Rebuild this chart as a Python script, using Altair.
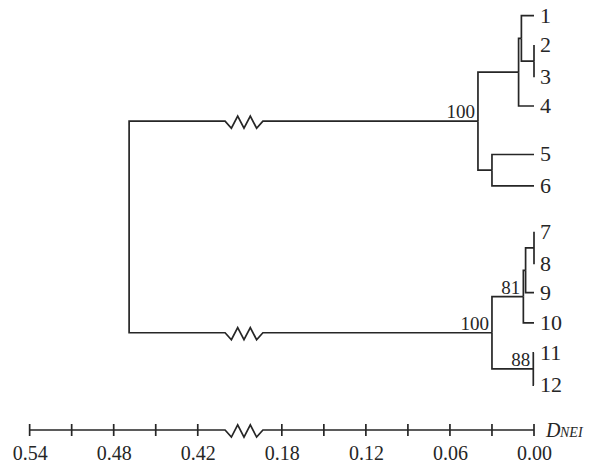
import altair as alt
import pandas as pd

# ---------------- data ----------------
leaf_names = ["1", "2", "3", "4", "5", "6", "7", "8", "9", "10", "11", "12"]
leaf_rows = [0.00, 0.96, 2.02, 2.96, 4.55, 5.58, 7.08, 8.15, 9.08, 10.07, 11.05, 12.11]
leaf_dist = [0.0, 0.0, 0.0, 0.0, 0.0, 0.0, 0.0, 0.0, 0.0, 0.0, 0.0, 0.0]

node_names = ["n23", "n1_23", "n1_4", "n56", "nA", "n78", "n7_9", "n7_10", "n11_12", "nB", "root"]
node_children = [("2", "3"), ("1", "n23"), ("n1_23", "4"), ("5", "6"), ("n1_4", "n56"),
                 ("7", "8"), ("n78", "9"), ("n7_9", "10"), ("11", "12"), ("n7_10", "n11_12"),
                 ("nA", "nB")]
node_dist = [0.000, 0.009, 0.011, 0.030, 0.040, 0.000, 0.006, 0.0076, 0.0005, 0.030, 0.469]
node_support = ["", "", "", "", "100", "", "", "81", "88", "100", ""]

axis_tick_values = [0.00, 0.03, 0.06, 0.09, 0.12, 0.15, 0.18, 0.42, 0.45, 0.48, 0.51, 0.54]
axis_label_values = [0.00, 0.06, 0.12, 0.18, 0.42, 0.48, 0.54]
axis_title_main = "D"
axis_title_sub = "NEI"

BREAK_LO, BREAK_HI = 0.18, 0.42   # hidden part of the distance axis
BREAK_SHOWN = 0.06                 # width the break occupies on the axis
ZZ_CENTER, ZZ_HALF = 0.207, 0.0135  # zigzag location (compressed units)
ZZ_DOWN, ZZ_UP = 0.23, 0.17
AXIS_ROW = 13.584
TICK_HALF = 0.197
INK = "#262626"
FONT = "Liberation Serif"


def comp(d):
    return d if d <= BREAK_LO else d - (BREAK_HI - BREAK_LO) + BREAK_SHOWN


def zigzag(y):
    xs = [ZZ_CENTER + ZZ_HALF - i * (2 * ZZ_HALF) / 6 for i in range(7)]
    offs = [0, ZZ_DOWN, -ZZ_UP, ZZ_DOWN, -ZZ_UP, ZZ_DOWN, 0]
    return [(x, y + o) for x, o in zip(xs, offs)]


# node positions
pos = {}
for n, r, d in zip(leaf_names, leaf_rows, leaf_dist):
    pos[n] = (comp(d), r)
for n, (a, b), d in zip(node_names, node_children, node_dist):
    pos[n] = (comp(d), (pos[a][1] + pos[b][1]) / 2)

# tree branches as elbow polylines
rows = []
pid = 0
for n, (a, b) in zip(node_names, node_children):
    nu, ny = pos[n]
    for c in (a, b):
        cu, cy = pos[c]
        pts = [(nu, ny), (nu, cy)]
        if n == "root":
            pts += zigzag(cy)
        pts.append((cu, cy))
        for s, (x, y) in enumerate(pts):
            rows.append({"path": f"p{pid}", "seq": s, "x": x, "y": y})
        pid += 1

# axis line with its break
ax_pts = [(comp(max(axis_tick_values)), AXIS_ROW)] + zigzag(AXIS_ROW) + [(comp(0.0), AXIS_ROW)]
for s, (x, y) in enumerate(ax_pts):
    rows.append({"path": "axis", "seq": s, "x": x, "y": y})
lines_df = pd.DataFrame(rows)

ticks_df = pd.DataFrame({"x": [comp(v) for v in axis_tick_values]})
ticks_df["y"] = AXIS_ROW - TICK_HALF
ticks_df["y2"] = AXIS_ROW + TICK_HALF

leaf_df = pd.DataFrame({"x": [pos[n][0] for n in leaf_names],
                        "y": [pos[n][1] for n in leaf_names],
                        "label": leaf_names})
sup_df = pd.DataFrame({"x": [pos[n][0] for n, s in zip(node_names, node_support) if s],
                       "y": [pos[n][1] for n, s in zip(node_names, node_support) if s],
                       "label": [s for s in node_support if s]})
title_df = pd.DataFrame({"x": [comp(0.0)], "y": [AXIS_ROW],
                         "main": [axis_title_main], "sub": [axis_title_sub]})

# ---------------- scales ----------------
W, H = 584, 422
PX_PER_UNIT = 1401
X0 = 526  # pixel of distance 0
xs = alt.Scale(domain=[X0 / PX_PER_UNIT, (X0 - W) / PX_PER_UNIT], nice=False, zero=False)
ys = alt.Scale(domain=[-7.7 / 30.5, (H - 7.7) / 30.5], nice=False, zero=False, reverse=True)

label_u = [comp(v) for v in axis_label_values]
x_axis = alt.Axis(values=label_u, domain=False, ticks=False, tickSize=0, grid=False,
                  labelExpr=f"format(datum.value > {BREAK_LO + BREAK_SHOWN / 2} ? datum.value + {BREAK_HI - BREAK_LO - BREAK_SHOWN} : datum.value, '.2f')",
                  labelFont=FONT, labelFontSize=20, labelColor=INK, labelPadding=13,
                  labelFlush=False, labelOverlap=False, title=None)


def X(field="x"):
    return alt.X(f"{field}:Q", scale=xs, axis=x_axis)


def Y(field="y"):
    return alt.Y(f"{field}:Q", scale=ys, axis=None)


lines = alt.Chart(lines_df).mark_line(color=INK, strokeWidth=1.7, strokeJoin="miter").encode(
    x=X(), y=Y(), detail="path:N", order="seq:Q")

ticks = alt.Chart(ticks_df).mark_rule(color=INK, strokeWidth=1.7).encode(
    x=X(), y=Y(), y2="y2:Q")

leaf_text = alt.Chart(leaf_df).mark_text(align="left", baseline="middle", dx=6,
                                         font=FONT, fontSize=22, color=INK).encode(
    x=X(), y=Y(), text="label:N")

sup_text = alt.Chart(sup_df).mark_text(align="right", baseline="alphabetic", dx=-3, dy=-3,
                                       font=FONT, fontSize=19, color=INK).encode(
    x=X(), y=Y(), text="label:N")

t_main = alt.Chart(title_df).mark_text(align="left", baseline="alphabetic", dx=12, dy=7,
                                       font=FONT, fontSize=20, fontStyle="italic", color=INK).encode(
    x=X(), y=Y(), text="main:N")
t_sub = alt.Chart(title_df).mark_text(align="left", baseline="alphabetic", dx=26, dy=7,
                                      font=FONT, fontSize=14, fontStyle="italic", color=INK).encode(
    x=X(), y=Y(), text="sub:N")

chart = alt.layer(lines, ticks, leaf_text, sup_text, t_main, t_sub).properties(
    width=W, height=H,
    autosize=alt.AutoSizeParams(type="none"),
    padding={"left": 0, "top": 0, "right": 0, "bottom": 36},
).configure_view(strokeWidth=0)

chart.save("out.html", embed_options={"renderer": "svg", "actions": False})
